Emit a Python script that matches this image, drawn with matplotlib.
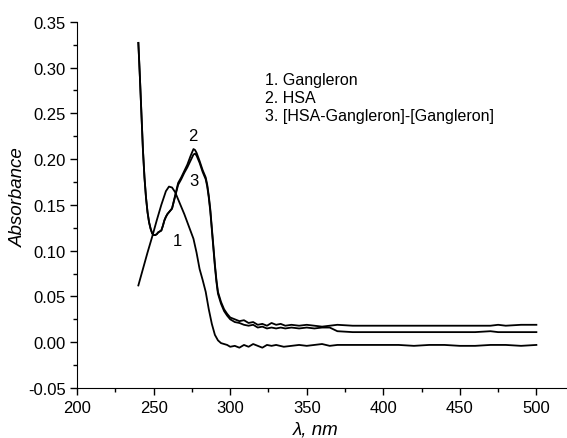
import numpy as np
import matplotlib.pyplot as plt
from matplotlib.ticker import MultipleLocator

plt.rcParams['font.family'] = ['Liberation Sans', 'DejaVu Sans']

# 1. Gangleron
wl1 = [240, 243, 246, 249, 252, 255, 258, 260, 262, 264, 266, 268, 270, 272, 274, 276, 278, 280,
       282, 284, 286, 288, 290, 292, 294, 296, 298, 300, 303, 306, 309, 312, 315, 318, 321, 324,
       327, 330, 335, 340, 345, 350, 355, 360, 365, 370, 380, 390, 400, 410, 420, 430, 440, 450,
       460, 470, 480, 490, 500]
abs1 = [0.062, 0.080, 0.098, 0.115, 0.133, 0.150, 0.165, 0.170, 0.169, 0.164, 0.156, 0.148, 0.140,
        0.131, 0.122, 0.113, 0.098, 0.080, 0.068, 0.055, 0.036, 0.020, 0.008, 0.002, -0.001, -0.002,
        -0.003, -0.005, -0.004, -0.006, -0.003, -0.005, -0.002, -0.004, -0.006, -0.003, -0.004,
        -0.003, -0.005, -0.004, -0.003, -0.004, -0.003, -0.002, -0.004, -0.003, -0.003, -0.003,
        -0.003, -0.003, -0.004, -0.003, -0.003, -0.004, -0.004, -0.003, -0.003, -0.004, -0.003]

# 2. HSA
wl2 = [240, 241, 242, 243, 244, 245, 246, 247, 248, 249, 250, 251, 252, 253, 254, 255, 256, 257,
       258, 259, 260, 262, 264, 266, 268, 270, 272, 274, 276, 277, 278, 280, 282, 284, 285, 286,
       287, 288, 289, 290, 291, 292, 294, 296, 298, 300, 303, 306, 309, 312, 315, 318, 321, 324,
       327, 330, 333, 336, 340, 345, 350, 355, 360, 365, 370, 380, 390, 400, 420, 440, 460, 470,
       475, 480, 490, 500]
abs2 = [0.327, 0.290, 0.250, 0.210, 0.180, 0.158, 0.142, 0.131, 0.124, 0.119, 0.117, 0.117, 0.118,
        0.120, 0.121, 0.122, 0.127, 0.133, 0.137, 0.140, 0.142, 0.146, 0.160, 0.174, 0.180, 0.187,
        0.194, 0.203, 0.211, 0.210, 0.207, 0.198, 0.188, 0.180, 0.172, 0.160, 0.145, 0.125, 0.105,
        0.085, 0.068, 0.055, 0.044, 0.036, 0.031, 0.027, 0.025, 0.023, 0.024, 0.021, 0.022, 0.019,
        0.020, 0.018, 0.021, 0.019, 0.020, 0.018, 0.019, 0.018, 0.019, 0.018, 0.017, 0.018, 0.019,
        0.018, 0.018, 0.018, 0.018, 0.018, 0.018, 0.018, 0.019, 0.018, 0.019, 0.019]

# 3. [HSA-Gangleron]-[Gangleron]
wl3 = wl2
abs3 = [0.327, 0.290, 0.250, 0.210, 0.180, 0.158, 0.142, 0.131, 0.124, 0.119, 0.117, 0.117, 0.118,
        0.120, 0.121, 0.122, 0.127, 0.133, 0.137, 0.140, 0.142, 0.146, 0.159, 0.172, 0.178, 0.185,
        0.191, 0.198, 0.205, 0.206, 0.204, 0.196, 0.186, 0.178, 0.170, 0.158, 0.143, 0.123, 0.103,
        0.083, 0.066, 0.053, 0.042, 0.034, 0.029, 0.025, 0.022, 0.021, 0.019, 0.018, 0.019, 0.016,
        0.017, 0.015, 0.016, 0.015, 0.016, 0.015, 0.016, 0.015, 0.016, 0.015, 0.016, 0.016, 0.012,
        0.011, 0.011, 0.011, 0.011, 0.011, 0.011, 0.012, 0.011, 0.011, 0.011, 0.011]

legend_lines = ['1. Gangleron', '2. HSA', '3. [HSA-Gangleron]-[Gangleron]']

fig = plt.figure(figsize=(5.67, 4.39), dpi=100)
ax = fig.add_axes([0.136, 0.114, 0.864, 0.834])

for w, a in [(wl1, abs1), (wl2, abs2), (wl3, abs3)]:
    ax.plot(w, a, color='black', lw=1.3)

ax.set_xlim(200, 520)
ax.set_ylim(-0.05, 0.35)
ax.spines['top'].set_visible(False)
ax.spines['right'].set_visible(False)
ax.xaxis.set_major_locator(MultipleLocator(50))
ax.xaxis.set_minor_locator(MultipleLocator(25))
ax.yaxis.set_major_locator(MultipleLocator(0.05))
ax.yaxis.set_minor_locator(MultipleLocator(0.025))
ax.set_xticks([200, 250, 300, 350, 400, 450, 500])
ax.tick_params(which='major', direction='out', length=5, width=1, labelsize=12)
ax.tick_params(which='minor', direction='out', length=3, width=1)
ax.tick_params(axis='y', pad=3)
ax.yaxis.set_major_formatter(plt.FuncFormatter(lambda v, p: '%.2f' % v))

ax.set_xlabel('λ, nm', fontsize=13.5, style='italic', va='center')
ax.xaxis.set_label_coords(0.488, -0.112)
ax.set_ylabel('Absorbance', fontsize=13.5, style='italic', va='center')
ax.yaxis.set_label_coords(-0.12, 0.525)

ax.text(265.5, 0.111, '1', fontsize=12, ha='center', va='center')
ax.text(275.5, 0.226, '2', fontsize=12, ha='center', va='center')
ax.text(276, 0.177, '3', fontsize=12, ha='center', va='center')

ax.text(0.384, 0.862, '\n'.join(legend_lines), transform=ax.transAxes, fontsize=11.5,
        va='top', ha='left', linespacing=1.25)

fig.savefig('out.png', dpi=100)
